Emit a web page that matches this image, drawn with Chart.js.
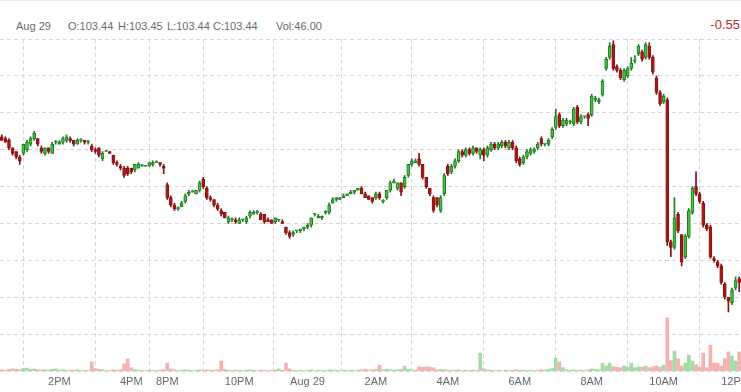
<!DOCTYPE html>
<html>
<head>
<meta charset="utf-8">
<script src="https://cdn.jsdelivr.net/npm/chart.js@4.4.1/dist/chart.umd.min.js"></script>
<style>
  html, body { margin:0; padding:0; background:#fff; }
  #wrap { position:relative; width:741px; height:392px; overflow:hidden; font-family: Arial, "Liberation Sans", sans-serif; }
  #topline { position:absolute; left:0; top:0; width:741px; height:1px; background:#e6e6e6; }
  .hd { position:absolute; top:19px; font-size:11px; line-height:14px; color:#6b6b6b; white-space:nowrap; }
  #chg { position:absolute; right:1px; top:17px; font-size:13px; line-height:16px; color:#c0282d; white-space:nowrap; }
  canvas { position:absolute; left:0; top:0; }
</style>
</head>
<body>
<div id="wrap">
  <div id="topline"></div>
  <div class="hd" style="left:16px">Aug 29</div>
  <div class="hd" style="left:68px">O:103.44</div>
  <div class="hd" style="left:118px">H:103.45</div>
  <div class="hd" style="left:167px">L:103.44</div>
  <div class="hd" style="left:213px">C:103.44</div>
  <div class="hd" style="left:276px">Vol:46.00</div>
  <div id="chg">-0.55</div>
  <canvas id="c" width="741" height="392"></canvas>
</div>
<script>
const opens = [104.27,104.26,104.25,104.21,104.19,104.16,104.18,104.20,104.23,104.26,104.26,104.21,104.18,104.21,104.18,104.24,104.23,104.24,104.25,104.26,104.25,104.23,104.25,104.25,104.24,104.22,104.20,104.21,104.15,104.19,104.19,104.17,104.13,104.11,104.10,104.10,104.10,104.09,104.10,104.11,104.11,104.11,104.12,104.13,104.13,104.11,104.01,103.94,103.90,103.88,103.89,103.92,103.96,103.97,103.96,103.98,104.04,103.99,103.94,103.93,103.90,103.87,103.86,103.81,103.82,103.82,103.80,103.82,103.81,103.84,103.85,103.86,103.85,103.85,103.82,103.82,103.81,103.82,103.81,103.78,103.75,103.74,103.76,103.76,103.77,103.78,103.79,103.85,103.83,103.83,103.86,103.86,103.91,103.93,103.93,103.94,103.95,103.96,103.97,103.98,103.99,103.96,103.95,103.94,103.94,103.96,103.92,103.94,103.98,104.02,103.99,104.02,104.00,104.06,104.12,104.13,104.15,104.12,104.05,103.99,103.94,103.94,103.87,103.96,104.11,104.08,104.11,104.14,104.19,104.17,104.20,104.18,104.21,104.17,104.20,104.17,104.20,104.23,104.21,104.22,104.24,104.21,104.24,104.21,104.15,104.13,104.16,104.18,104.19,104.21,104.26,104.23,104.23,104.27,104.32,104.39,104.33,104.34,104.35,104.34,104.43,104.35,104.38,104.39,104.39,104.47,104.46,104.50,104.64,104.70,104.77,104.65,104.63,104.58,104.60,104.64,104.68,104.72,104.73,104.70,104.76,104.70,104.59,104.51,104.46,104.47,103.70,103.67,103.85,103.74,103.62,103.73,103.86,104.00,103.96,103.91,103.79,103.78,103.61,103.59,103.57,103.47,103.40,103.37,103.45,103.50];
const highs = [104.28,104.27,104.26,104.21,104.19,104.17,104.23,104.25,104.27,104.30,104.26,104.22,104.21,104.21,104.24,104.25,104.25,104.27,104.28,104.27,104.25,104.26,104.26,104.25,104.25,104.23,104.21,104.21,104.19,104.19,104.19,104.17,104.14,104.12,104.11,104.11,104.10,104.12,104.13,104.12,104.11,104.13,104.14,104.14,104.13,104.12,104.02,103.95,103.91,103.89,103.92,103.96,103.98,103.98,103.98,104.03,104.05,104.00,103.95,103.93,103.91,103.88,103.86,103.84,103.83,103.83,103.83,103.82,103.84,103.87,103.87,103.87,103.86,103.85,103.83,103.82,103.83,103.82,103.82,103.78,103.76,103.76,103.76,103.77,103.78,103.80,103.83,103.85,103.85,103.84,103.87,103.91,103.94,103.94,103.94,103.96,103.96,103.98,103.98,103.99,104.00,103.97,103.95,103.94,103.97,103.97,103.93,103.98,104.03,104.04,104.02,104.02,104.06,104.12,104.15,104.15,104.18,104.12,104.05,103.99,103.95,103.94,103.95,104.07,104.12,104.12,104.15,104.20,104.20,104.21,104.21,104.22,104.21,104.21,104.21,104.22,104.24,104.24,104.24,104.25,104.25,104.25,104.25,104.22,104.16,104.17,104.20,104.21,104.21,104.24,104.27,104.23,104.26,104.32,104.42,104.40,104.37,104.37,104.36,104.43,104.44,104.39,104.38,104.40,104.50,104.49,104.48,104.58,104.70,104.78,104.79,104.66,104.64,104.64,104.65,104.70,104.71,104.77,104.74,104.78,104.78,104.71,104.60,104.52,104.50,104.48,103.71,103.94,103.86,103.74,103.74,103.88,104.00,104.08,103.97,103.92,103.80,103.79,103.62,103.60,103.58,103.48,103.40,103.45,103.51,103.51];
const lows = [104.25,104.24,104.20,104.17,104.15,104.12,104.17,104.19,104.22,104.25,104.22,104.18,104.17,104.18,104.18,104.23,104.23,104.23,104.24,104.24,104.22,104.23,104.24,104.23,104.23,104.19,104.18,104.16,104.14,104.19,104.18,104.12,104.11,104.09,104.05,104.06,104.07,104.08,104.10,104.11,104.11,104.11,104.11,104.13,104.11,104.07,103.93,103.89,103.87,103.87,103.89,103.91,103.95,103.97,103.96,103.97,103.99,103.93,103.92,103.89,103.87,103.84,103.83,103.80,103.81,103.80,103.80,103.81,103.80,103.83,103.85,103.85,103.82,103.80,103.81,103.80,103.80,103.81,103.80,103.74,103.72,103.73,103.75,103.75,103.76,103.77,103.78,103.84,103.83,103.82,103.85,103.85,103.91,103.92,103.93,103.94,103.95,103.96,103.96,103.98,103.96,103.94,103.93,103.91,103.93,103.93,103.91,103.93,103.97,104.02,103.98,103.95,103.99,104.05,104.11,104.13,104.11,104.04,103.99,103.95,103.86,103.89,103.86,103.95,104.06,104.07,104.10,104.13,104.16,104.16,104.17,104.17,104.18,104.15,104.14,104.16,104.19,104.20,104.20,104.21,104.21,104.20,104.20,104.13,104.11,104.12,104.15,104.17,104.18,104.20,104.22,104.22,104.22,104.26,104.31,104.32,104.32,104.33,104.34,104.33,104.34,104.34,104.37,104.33,104.38,104.46,104.45,104.49,104.63,104.69,104.63,104.62,104.58,104.57,104.59,104.63,104.67,104.71,104.68,104.69,104.69,104.61,104.50,104.44,104.45,103.68,103.62,103.66,103.75,103.57,103.61,103.72,103.85,103.95,103.91,103.78,103.76,103.61,103.59,103.56,103.47,103.39,103.32,103.36,103.44,103.43];
const closes = [104.25,104.24,104.21,104.18,104.16,104.14,104.23,104.24,104.26,104.29,104.23,104.19,104.21,104.19,104.23,104.24,104.24,104.26,104.27,104.25,104.23,104.25,104.25,104.24,104.24,104.20,104.19,104.17,104.18,104.19,104.18,104.13,104.12,104.10,104.06,104.07,104.08,104.12,104.12,104.11,104.11,104.13,104.13,104.13,104.12,104.10,103.94,103.90,103.88,103.88,103.91,103.95,103.97,103.97,103.98,104.02,104.00,103.94,103.93,103.90,103.88,103.85,103.83,103.83,103.82,103.81,103.82,103.82,103.83,103.86,103.86,103.86,103.82,103.81,103.81,103.80,103.83,103.82,103.80,103.75,103.73,103.75,103.76,103.77,103.78,103.79,103.83,103.85,103.84,103.84,103.86,103.90,103.93,103.94,103.94,103.95,103.96,103.97,103.98,103.99,103.96,103.94,103.93,103.92,103.96,103.94,103.92,103.98,104.02,104.03,104.02,103.97,104.05,104.12,104.14,104.14,104.12,104.05,104.00,103.96,103.87,103.90,103.94,104.06,104.07,104.11,104.14,104.19,104.17,104.20,104.18,104.21,104.19,104.20,104.17,104.21,104.23,104.21,104.23,104.24,104.22,104.24,104.21,104.14,104.12,104.16,104.19,104.20,104.20,104.23,104.23,104.23,104.25,104.31,104.38,104.33,104.36,104.36,104.35,104.42,104.35,104.38,104.38,104.37,104.49,104.48,104.47,104.57,104.69,104.76,104.64,104.63,104.59,104.63,104.64,104.67,104.68,104.76,104.69,104.77,104.70,104.62,104.51,104.45,104.49,103.70,103.67,103.83,103.76,103.59,103.73,103.87,103.99,103.96,103.92,103.79,103.77,103.62,103.60,103.57,103.48,103.40,103.38,103.44,103.49,103.48];
const volumes = [3,2,4,5,4,3,6,7,4,5,3,2,3,2,4,5,2,3,2,2,2,3,1,2,1,22,6,4,3,1,1,3,2,3,17,29,8,3,2,1,1,2,1,1,2,3,19,5,3,1,2,3,2,1,2,3,2,3,2,2,3,24,4,2,1,2,2,1,2,3,2,1,2,2,1,2,2,5,2,19,5,2,1,2,1,2,3,1,2,1,1,3,2,2,1,2,1,2,1,2,3,4,2,3,4,14,3,4,3,2,3,4,12,4,3,2,10,9,10,9,8,3,4,3,2,2,2,3,1,2,1,2,1,43,5,3,2,1,2,1,2,1,2,3,2,2,1,2,1,2,3,2,4,6,31,22,8,3,2,3,2,2,1,3,5,4,3,19,12,19,10,9,8,12,10,19,8,10,9,12,8,10,12,9,14,128,25,48,29,12,19,38,24,15,10,43,8,62,19,19,12,30,46,36,24,46];
const tickIndex = [16,36,46,66,85,104,124,144,164,184,204];
const tickLabels = ['2PM','4PM','8PM','10PM','Aug 29','2AM','4AM','6AM','8AM','10AM','12PM'];

const N = closes.length;
const up = closes.map((c,i)=> c >= opens[i]);
const bodyFill = up.map(u => u ? '#49c049' : '#a81c1c');
const bodyLine = up.map(u => u ? '#1d7a1d' : '#8a1010');
const volFill = up.map(u => u ? '#a3dba3' : '#f5b0b0');

const dash = [4,3];
new Chart(document.getElementById('c'), {
  type: 'bar',
  data: {
    datasets: [
      {
        label: 'body',
        data: opens.map((o,i)=>({x:i, y:[o, closes[i]]})),
        backgroundColor: bodyFill, borderColor: bodyLine, borderWidth: 1, borderSkipped: false,
        barThickness: 3, minBarLength: 1, grouped: false, yAxisID: 'y', order: 1
      },
      {
        label: 'wick',
        data: lows.map((l,i)=>({x:i, y:[l, highs[i]]})),
        backgroundColor: bodyLine, borderWidth: 0,
        barThickness: 1, minBarLength: 1, grouped: false, yAxisID: 'y', order: 2
      },
      {
        label: 'volume',
        data: volumes.map((v,i)=>({x:i, y:v})),
        backgroundColor: volFill, borderWidth: 0,
        barThickness: 3, grouped: false, yAxisID: 'yv', order: 3
      }
    ]
  },
  options: {
    responsive: false,
    animation: false,
    events: [],
    layout: { padding: { top: 39, left: 0, right: 0, bottom: 0 } },
    plugins: { legend: { display: false }, tooltip: { enabled: false }, title: { display: false } },
    scales: {
      x: {
        type: 'linear', min: -0.5, max: N - 0.5, offset: false,
        grid: { color: '#d6d6d6', lineWidth: 1, drawTicks: false, borderDash: dash },
        border: { display: false, dash: dash },
        afterBuildTicks: s => { s.ticks = tickIndex.map(v => ({ value: v })); },
        afterFit: s => { s.height = 21; s.paddingLeft = 0; s.paddingRight = 0; },
        ticks: {
          autoSkip: false, maxRotation: 0, minRotation: 0, padding: 4,
          color: '#666', font: { family: 'Arial, "Liberation Sans", sans-serif', size: 11 },
          callback: (v, i) => tickLabels[i]
        }
      },
      y: {
        min: 103.0, max: 104.8,
        ticks: { display: false, stepSize: 0.2 },
        grid: { color: '#d6d6d6', lineWidth: 1, drawTicks: false, borderDash: dash },
        border: { display: false, dash: dash }
      },
      yv: {
        display: false, min: 0, max: 800
      }
    }
  }
});
</script>
</body>
</html>
